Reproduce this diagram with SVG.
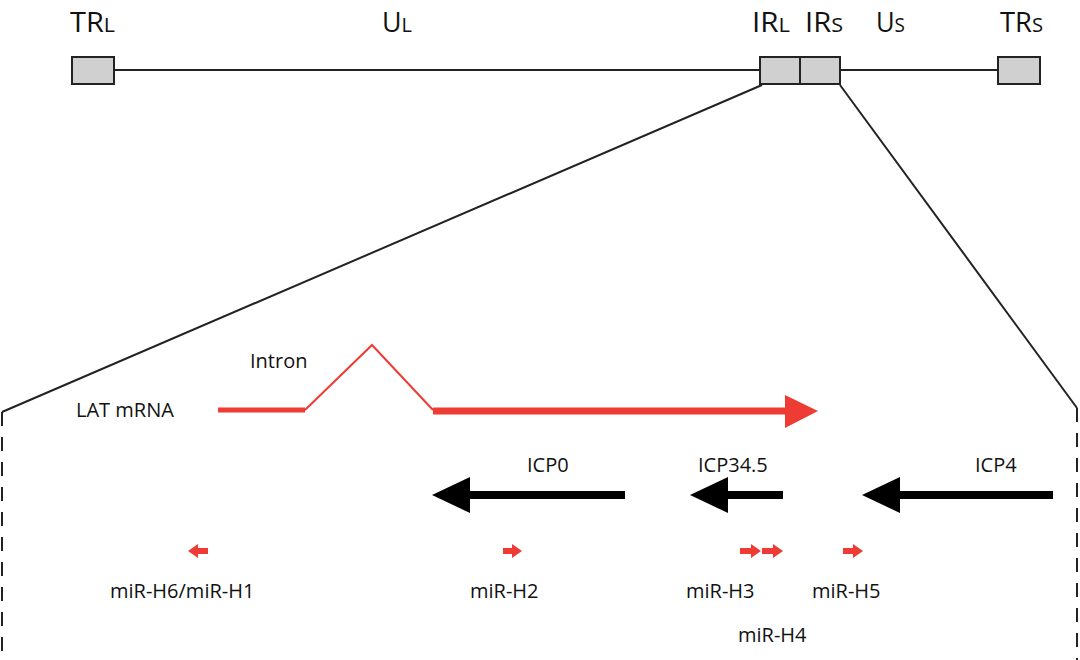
<svg xmlns="http://www.w3.org/2000/svg" width="1080" height="660" viewBox="0 0 1080 660">
<style>
text{font-family:"Open Sans","Liberation Sans",sans-serif;font-size:20px;fill:#111}
.t{font-size:27px}
.s{font-size:20px}
.box{fill:#d0d0d0;stroke:#222;stroke-width:2}
.ln{stroke:#222;stroke-width:2;fill:none}
.red{fill:#ee3b33}
</style>
<rect width="1080" height="660" fill="#fff"/>
<g id="genome">
<line class="ln" x1="114" y1="70" x2="760" y2="70"/>
<line class="ln" x1="840" y1="70" x2="998" y2="70"/>
<rect class="box" x="72" y="57" width="42" height="27"/>
<rect class="box" x="760" y="57" width="40" height="27"/>
<rect class="box" x="800" y="57" width="40" height="27"/>
<rect class="box" x="998" y="57" width="42" height="27"/>
<text class="t" x="70" y="32" textLength="45" lengthAdjust="spacingAndGlyphs">TR<tspan class="s">L</tspan></text>
<text class="t" x="382" y="32" textLength="30" lengthAdjust="spacingAndGlyphs">U<tspan class="s">L</tspan></text>
<text class="t" x="752" y="32" textLength="38" lengthAdjust="spacingAndGlyphs">IR<tspan class="s">L</tspan></text>
<text class="t" x="805" y="32" textLength="38" lengthAdjust="spacingAndGlyphs">IR<tspan class="s">S</tspan></text>
<text class="t" x="876" y="32" textLength="29" lengthAdjust="spacingAndGlyphs">U<tspan class="s">S</tspan></text>
<text class="t" x="1000" y="32" textLength="43" lengthAdjust="spacingAndGlyphs">TR<tspan class="s">S</tspan></text>
</g>
<g id="connectors">
<line class="ln" x1="762" y1="85" x2="2" y2="412"/>
<line class="ln" x1="840" y1="85" x2="1077" y2="408"/>
<line class="ln" x1="2" y1="412" x2="2" y2="660" stroke-dasharray="14,11"/>
<line class="ln" x1="1077" y1="408" x2="1077" y2="660" stroke-dasharray="14,11"/>
</g>
<g id="lat">
<text x="76" y="417">LAT mRNA</text>
<text x="250" y="368">Intron</text>
<polyline points="218,410 305,410" stroke="#ee3b33" stroke-width="5" fill="none"/>
<polyline points="305,410 372,345 433,410" stroke="#ee3b33" stroke-width="2" fill="none"/>
<line x1="433" y1="411" x2="790" y2="411" stroke="#ee3b33" stroke-width="7"/>
<polygon class="red" points="785,395 818,411 785,428"/>
</g>
<g id="icp0">
<text x="527" y="472">ICP0</text>
<line x1="468" y1="495" x2="625" y2="495" stroke="#000" stroke-width="8"/>
<polygon points="432,495 470,477 470,513" fill="#000"/>
</g>
<g id="icp345">
<text x="698" y="472">ICP34.5</text>
<line x1="725" y1="495" x2="783" y2="495" stroke="#000" stroke-width="8"/>
<polygon points="690,495 728,477 728,513" fill="#000"/>
</g>
<g id="icp4">
<text x="975" y="472">ICP4</text>
<line x1="898" y1="495" x2="1053" y2="495" stroke="#000" stroke-width="8"/>
<polygon points="862,495 900,477 900,513" fill="#000"/>
</g>
<g id="mirs">
<polygon class="red" points="188,551 198,544 198,548 208,548 208,554 198,554 198,558"/>
<polygon class="red" points="522,551 512,544 512,548 503,548 503,554 512,554 512,558"/>
<polygon class="red" points="761,551 751,544 751,548 740,548 740,554 751,554 751,558"/>
<polygon class="red" points="783,551 773,544 773,548 762,548 762,554 773,554 773,558"/>
<polygon class="red" points="863,551 853,544 853,548 843,548 843,554 853,554 853,558"/>
<text x="110" y="598">miR-H6/miR-H1</text>
<text x="470" y="598">miR-H2</text>
<text x="686" y="598">miR-H3</text>
<text x="812" y="598">miR-H5</text>
<text x="738" y="642">miR-H4</text>
</g>
</svg>
